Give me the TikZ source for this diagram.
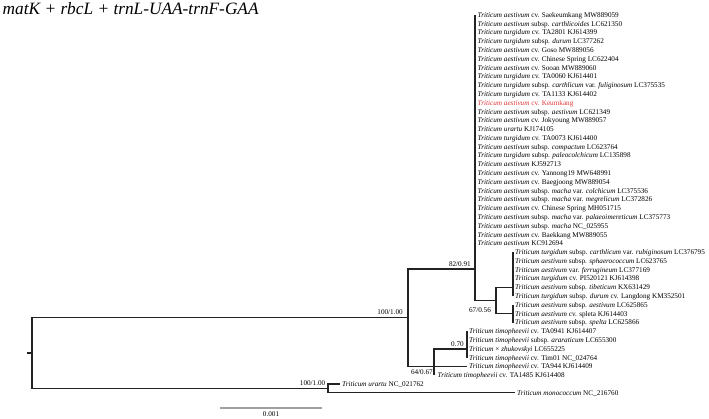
\documentclass[tikz,border=0pt]{standalone}
\usepackage{fontspec}
\setmainfont{Liberation Serif}
\definecolor{keum}{RGB}{226,52,52}
\definecolor{branchcol}{RGB}{35,35,35}
\definecolor{scalegray}{RGB}{160,160,160}
\newcommand{\tx}[1]{\textit{#1}}
\newcommand{\tipfont}{\fontsize{7.2}{8}\selectfont}
\begin{document}
\begin{tikzpicture}[x=1pt,y=-1pt,
  br/.style={draw=branchcol,line width=1.3pt},
  tip/.style={anchor=west,inner xsep=2pt,inner ysep=0pt,text height=5.7pt,text depth=1pt,font=\tipfont},
  sup/.style={inner sep=0pt,font=\tipfont},
  scalebar/.style={draw=scalegray,line width=1.2pt}]
\useasboundingbox (0,0) rectangle (709,418);
% title
\node[anchor=base west,inner sep=0pt,font=\fontsize{17.3}{19}\selectfont\itshape] (title) at (2.5,14.5) {matK + rbcL + trnL-UAA-trnF-GAA};
% tips
\node[tip] (t1) at (475.5,15.00) {\tx{Triticum aestivum} cv. Saekeumkang MW889059};
\node[tip] (t2) at (475.5,23.79) {\tx{Triticum aestivum} subsp. \tx{carthlicoides} LC621350};
\node[tip] (t3) at (475.5,32.57) {\tx{Triticum turgidum} cv. TA2801 KJ614399};
\node[tip] (t4) at (475.5,41.36) {\tx{Triticum turgidum} subsp. \tx{durum} LC377262};
\node[tip] (t5) at (475.5,50.15) {\tx{Triticum aestivum} cv. Goso MW889056};
\node[tip] (t6) at (475.5,58.93) {\tx{Triticum aestivum} cv. Chinese Spring LC622404};
\node[tip] (t7) at (475.5,67.72) {\tx{Triticum aestivum} cv. Sooan MW889060};
\node[tip] (t8) at (475.5,76.51) {\tx{Triticum turgidum} cv. TA0060 KJ614401};
\node[tip] (t9) at (475.5,85.29) {\tx{Triticum turgidum} subsp. \tx{carthlicum} var. \tx{fuliginosum} LC375535};
\node[tip] (t10) at (475.5,94.08) {\tx{Triticum turgidum} cv. TA1133 KJ614402};
\node[tip,text=keum] (t11) at (475.5,102.87) {\tx{Triticum aestivum} cv. Keumkang};
\node[tip] (t12) at (475.5,111.65) {\tx{Triticum aestivum} subsp. \tx{aestivum} LC621349};
\node[tip] (t13) at (475.5,120.44) {\tx{Triticum aestivum} cv. Jokyoung MW889057};
\node[tip] (t14) at (475.5,129.22) {\tx{Triticum urartu} KJ174105};
\node[tip] (t15) at (475.5,138.01) {\tx{Triticum turgidum} cv. TA0073 KJ614400};
\node[tip] (t16) at (475.5,146.80) {\tx{Triticum aestivum} subsp. \tx{compactum} LC623764};
\node[tip] (t17) at (475.5,155.58) {\tx{Triticum turgidum} subsp. \tx{paleocolchicum} LC135898};
\node[tip] (t18) at (475.5,164.37) {\tx{Triticum aestivum} KJ592713};
\node[tip] (t19) at (475.5,173.16) {\tx{Triticum aestivum} cv. Yannong19 MW648991};
\node[tip] (t20) at (475.5,181.94) {\tx{Triticum aestivum} cv. Baegjoong MW889054};
\node[tip] (t21) at (475.5,190.73) {\tx{Triticum aestivum} subsp. \tx{macha} var. \tx{colchicum} LC375536};
\node[tip] (t22) at (475.5,199.52) {\tx{Triticum aestivum} subsp. \tx{macha} var. \tx{megrelicum} LC372826};
\node[tip] (t23) at (475.5,208.30) {\tx{Triticum aestivum} cv. Chinese Spring MH051715};
\node[tip] (t24) at (475.5,217.09) {\tx{Triticum aestivum} subsp. \tx{macha} var. \tx{palaeoimereticum} LC375773};
\node[tip] (t25) at (475.5,225.88) {\tx{Triticum aestivum} subsp. \tx{macha} NC\_025955};
\node[tip] (t26) at (475.5,234.66) {\tx{Triticum aestivum} cv. Baekkang MW889055};
\node[tip] (t27) at (475.5,243.45) {\tx{Triticum aestivum} KC912694};
\node[tip] (t28) at (513,252.24) {\tx{Triticum turgidum} subsp. \tx{carthlicum} var. \tx{rubiginosum} LC376795};
\node[tip] (t29) at (513,261.02) {\tx{Triticum aestivum} subsp. \tx{sphaerococcum} LC623765};
\node[tip] (t30) at (513,269.81) {\tx{Triticum aestivum} var. \tx{ferrugineum} LC377169};
\node[tip] (t31) at (513,278.60) {\tx{Triticum turgidum} cv. PI520121 KJ614398};
\node[tip] (t32) at (513,287.38) {\tx{Triticum aestivum} subsp. \tx{tibeticum} KX631429};
\node[tip] (t33) at (513,296.17) {\tx{Triticum turgidum} subsp. \tx{durum} cv. Langdong KM352501};
\node[tip] (t34) at (513,304.95) {\tx{Triticum aestivum} subsp. \tx{aestivum} LC625865};
\node[tip] (t35) at (513,313.74) {\tx{Triticum aestivum} cv. spleta KJ614403};
\node[tip] (t36) at (513,322.53) {\tx{Triticum aestivum} subsp. \tx{spelta} LC625866};
\node[tip] (t37) at (467,331.31) {\tx{Triticum timopheevii} cv. TA0941 KJ614407};
\node[tip] (t38) at (467,340.10) {\tx{Triticum timopheevii} subsp. \tx{araraticum} LC655300};
\node[tip] (t39) at (467,348.89) {\tx{Triticum} × \tx{zhukovskyi} LC655225};
\node[tip] (t40) at (467,357.67) {\tx{Triticum timopheevii} cv. Tim01 NC\_024764};
\node[tip] (t41) at (467,366.46) {\tx{Triticum timopheevii} cv. TA944 KJ614409};
\node[tip] (t42) at (435.5,375.25) {\tx{Triticum timopheevii} cv. TA1485 KJ614408};
\node[tip] (t43) at (340,384.03) {\tx{Triticum urartu} NC\_021762};
\node[tip] (t44) at (515,392.82) {\tx{Triticum monococcum} NC\_216760};
% internal nodes
\coordinate (R0) at (27,353.08);
\coordinate (R) at (32,353.08);
\coordinate (A) at (408,317.73);
\coordinate (B) at (475,269);
\coordinate (C) at (434,366.46);
\coordinate (D) at (496,300.56);
\coordinate (E) at (513,287.38);
\coordinate (F) at (513,313.74);
\coordinate (G) at (467,348.89);
\coordinate (U) at (328,388.43);
% branches
\draw[br] (R0) -- (R);
\draw[br] (R) |- (A);
\draw[br] (R) |- (U);
\draw[br] (A) |- (B);
\draw[br] (A) |- (C);
\draw[br] (B) -- (B |- t1.west);
\draw[br] (B) |- (D);
\draw[br] (D) |- (E);
\draw[br] (D) |- (F);
\draw[br] (E |- t28.west) -- (E |- t33.west);
\draw[br] (F |- t34.west) -- (F |- t36.west);
\draw[br] (C) |- (G);
\draw[br] (C) -- (t41.west);
\draw[br] (C) -- (C |- t42.west);
\draw[br] (G |- t37.west) -- (G |- t40.west);
\draw[br] (U) |- (t43.west);
\draw[br] (U) |- (t44.west);
% support values
\node[sup,anchor=base east] (sA) at (403,314.6) {100/1.00};
\node[sup,anchor=base east] (sB) at (471,266) {82/0.91};
\node[sup,anchor=base] (sD) at (480,312) {67/0.56};
\node[sup,anchor=base east] (sG) at (464,346) {0.70};
\node[sup,anchor=base east] (sC) at (433,374.6) {64/0.67};
\node[sup,anchor=base east] (sU) at (325.5,385.5) {100/1.00};
% scale bar
\coordinate (sb1) at (220,408);
\coordinate (sb2) at (322,408);
\draw[scalebar] (sb1) -- (sb2);
\node[sup,anchor=base] (sbl) at (271,416.5) {0.001};
\end{tikzpicture}
\end{document}
